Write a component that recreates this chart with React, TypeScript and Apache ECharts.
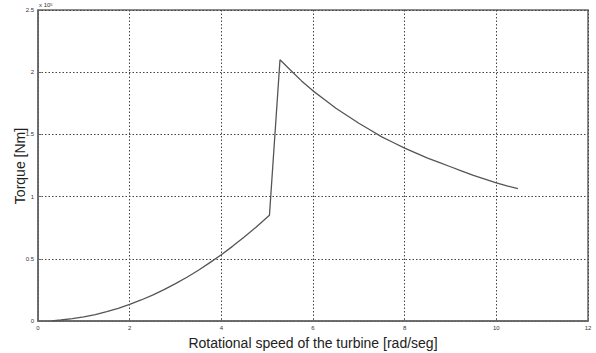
import React, { useEffect, useRef } from "react";
import * as echarts from "echarts";

const speed = [0.3, 0.5, 0.75, 1, 1.25, 1.5, 1.75, 2, 2.25, 2.5, 2.75, 3, 3.25, 3.5, 3.75, 4, 4.25, 4.5, 4.75, 5.05, 5.28, 5.5, 5.75, 6, 6.25, 6.5, 6.75, 7, 7.25, 7.5, 7.75, 8, 8.25, 8.5, 8.75, 9, 9.25, 9.5, 9.75, 10, 10.25, 10.47];
const torque = [0.0, 0.008, 0.019, 0.033, 0.052, 0.075, 0.102, 0.133, 0.169, 0.208, 0.252, 0.3, 0.352, 0.408, 0.469, 0.533, 0.602, 0.675, 0.752, 0.85, 2.1, 2.02, 1.93, 1.85, 1.78, 1.71, 1.65, 1.59, 1.535, 1.48, 1.435, 1.39, 1.35, 1.31, 1.275, 1.24, 1.205, 1.17, 1.14, 1.11, 1.085, 1.065];
const xTitle = "Rotational speed of the turbine [rad/seg]";
const yTitle = "Torque [Nm]";

export default function App() {
  const ref = useRef<HTMLDivElement>(null);
  useEffect(() => {
    const chart = echarts.init(ref.current!, null, { renderer: "svg" });
    const data = speed.map((s, i) => [s, torque[i]]);
    chart.setOption({
      animation: false,
      backgroundColor: "#fff",
      grid: { left: 38, right: 8, top: 10, bottom: 32, containLabel: false, outerBoundsMode: "none", show: true, borderColor: "#666", borderWidth: 1.5 },
      xAxis: {
        type: "value", min: 0, max: 12, interval: 2,
        axisLine: { show: true, lineStyle: { color: "#666", width: 1.5 } },
        axisTick: { show: true, inside: true, length: 3, lineStyle: { color: "#666" } },
        axisLabel: { fontSize: 6, color: "#333", margin: 4, fontFamily: "Liberation Sans" },
        splitLine: { show: true, lineStyle: { type: [1.5, 2], color: "#444", width: 1 } },
        name: xTitle, nameLocation: "middle", nameGap: 13,
        nameTextStyle: { fontSize: 14, color: "#222", fontFamily: "Liberation Sans" },
      },
      yAxis: {
        type: "value", min: 0, max: 2.5, interval: 0.5,
        axisLine: { show: true, lineStyle: { color: "#666", width: 1.5 } },
        axisTick: { show: true, inside: true, length: 3, lineStyle: { color: "#666" } },
        axisLabel: { fontSize: 6, color: "#333", margin: 4, fontFamily: "Liberation Sans" },
        splitLine: { show: true, lineStyle: { type: [1.5, 2], color: "#444", width: 1 } },
      },
      graphic: [
        {
          type: "text", left: 39, top: 2,
          style: {
            text: "x 10{s|5}",
            fontSize: 6, fill: "#333", fontFamily: "Liberation Sans",
            rich: { s: { fontSize: 4, verticalAlign: "top", fill: "#333" } },
          },
        },
        {
          type: "text", x: 20, y: 166, rotation: Math.PI / 2,
          style: {
            text: yTitle, fontSize: 14, fill: "#222", fontFamily: "Liberation Sans",
            align: "center", verticalAlign: "middle",
          },
        },
      ],
      series: [
        {
          type: "line", data, showSymbol: false, smooth: false,
          lineStyle: { color: "#555", width: 1.3 },
        },
      ],
    });
    return () => chart.dispose();
  }, []);
  return <div ref={ref} style={{ width: 596, height: 353, position: "fixed", left: 0, top: 0 }} />;
}
